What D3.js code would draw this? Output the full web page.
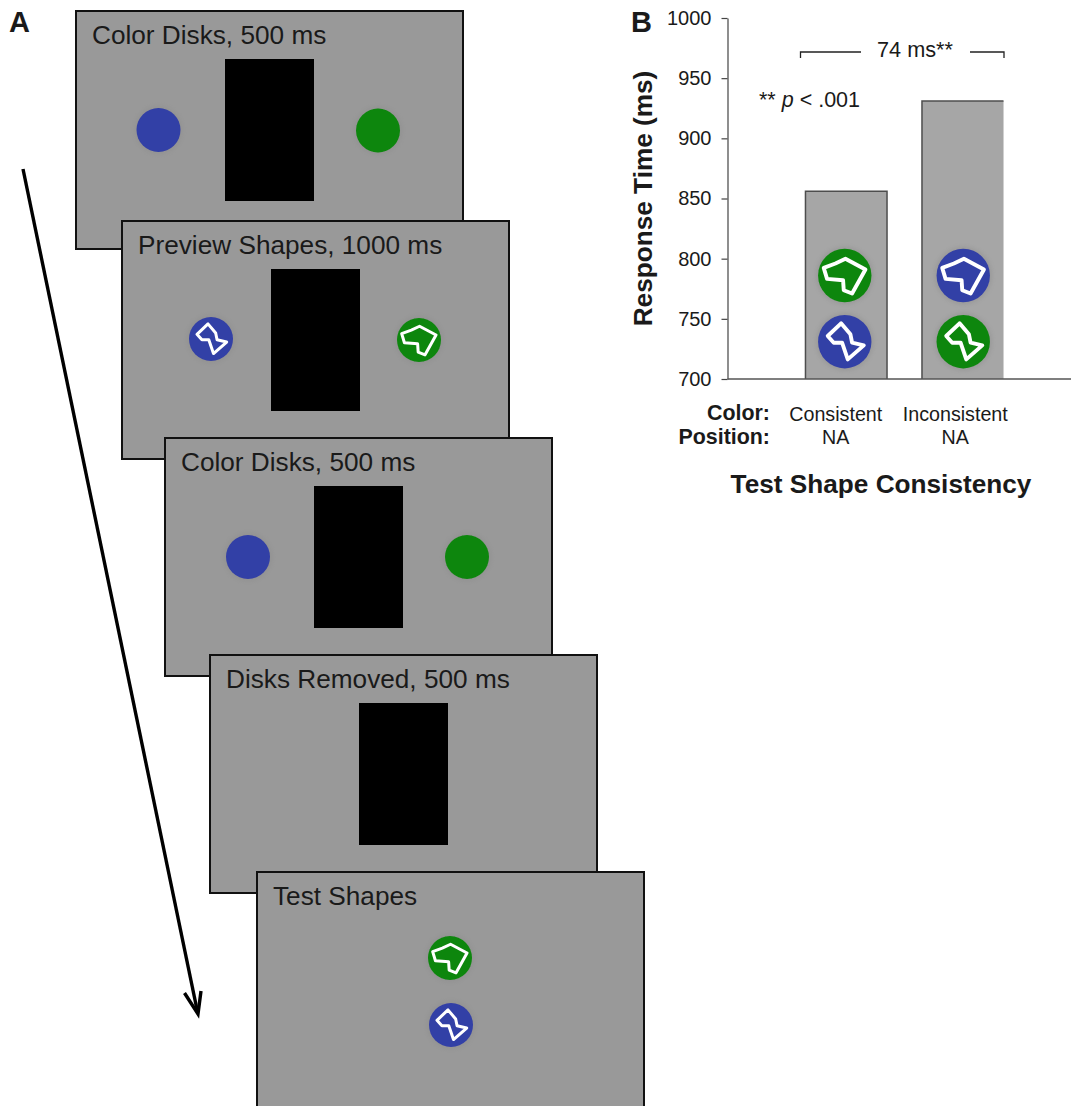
<!DOCTYPE html>
<html>
<head>
<meta charset="utf-8">
<script src="https://cdn.jsdelivr.net/npm/d3@7"></script>
<style>
  html, body { margin: 0; padding: 0; background: #fff; }
  svg { display: block; }
  text { font-family: "Liberation Sans", Arial, sans-serif; fill: #1a1a1a; }
</style>
</head>
<body>
<div id="chart"></div>
<script>
// chart values
var categories = ["Consistent", "Inconsistent"];
var responseTimes = [856, 931];
var positionLabels = ["NA", "NA"];
var yTicks = [700, 750, 800, 850, 900, 950, 1000];

// screen captions in panel A, in time order
var screenCaptions = ["Color Disks, 500 ms", "Preview Shapes, 1000 ms", "Color Disks, 500 ms", "Disks Removed, 500 ms", "Test Shapes"];

// outlines of the two test shapes, in units where a disk has radius 80
var shapeA = [[-63,-23],[-53,10],[-5,14],[-3,44],[22,54],[62,-18],[2,-50],[-28,-36]];
var shapeB = [[-51,-17],[-33,3],[-8,3],[9,53],[57,11],[22,3],[17,-22],[-11,-55]];

var width = 1071, height = 1106;
var blue = "#333fa6", green = "#0f860f", screenGrey = "#999999", barGrey = "#a6a6a6";

var svg = d3.select("#chart").append("svg")
  .attr("width", width)
  .attr("height", height);

// the disks in the picture have soft edges and a faint halo
var defs = svg.append("defs");
defs.append("filter").attr("id", "soft")
  .append("feGaussianBlur").attr("stdDeviation", 0.5);
defs.append("filter").attr("id", "halo")
  .append("feGaussianBlur").attr("stdDeviation", 2);

// disk with an optional white outline on it
function drawDisk(parent, cx, cy, r, fill, shape) {
  parent.append("circle")
    .attr("cx", cx)
    .attr("cy", cy)
    .attr("r", r + 2)
    .attr("fill", "#8a8a8a")
    .attr("opacity", 0.45)
    .attr("filter", "url(#halo)");
  var g = parent.append("g").attr("filter", "url(#soft)");
  g.append("circle")
    .attr("cx", cx)
    .attr("cy", cy)
    .attr("r", r)
    .attr("fill", fill);
  if (shape) {
    var sx = d3.scaleLinear().domain([-80, 80]).range([cx - r, cx + r]);
    var sy = d3.scaleLinear().domain([-80, 80]).range([cy - r, cy + r]);
    var line = d3.line().x(function(d) { return sx(d[0]); }).y(function(d) { return sy(d[1]); }).curve(d3.curveLinearClosed);
    g.append("path")
      .attr("d", line(shape))
      .attr("fill", "none")
      .attr("stroke", "#fff")
      .attr("stroke-width", r > 24 ? 3.9 : 3)
      .attr("stroke-linejoin", "round");
  }
}

//---- panel A
var screens = [
  { x: 76,  y: 11,  disks: [[82.5, 119, blue, null], [302, 119.5, green, null]], black: true },
  { x: 122, y: 221, disks: [[89, 118, blue, shapeB], [297, 119, green, shapeA]], black: true },
  { x: 165, y: 438, disks: [[83, 119, blue, null], [302, 119, green, null]], black: true },
  { x: 210, y: 655, disks: [], black: true },
  { x: 257, y: 872, disks: [[193, 86, green, shapeA], [194, 153, blue, shapeB]], black: false }
];

screens.forEach(function(s, i) {
  var g = svg.append("g").attr("transform", "translate(" + s.x + "," + s.y + ")");
  g.append("rect")
    .attr("width", 387)
    .attr("height", 238)
    .attr("fill", screenGrey)
    .attr("stroke", "#111")
    .attr("stroke-width", 2);
  g.append("text")
    .attr("x", 16)
    .attr("y", 33)
    .style("font-size", "26.2px")
    .text(screenCaptions[i]);
  if (s.black) {
    g.append("rect")
      .attr("x", 149)
      .attr("y", 48)
      .attr("width", 89)
      .attr("height", 142)
      .attr("fill", "#000");
  }
  s.disks.forEach(function(d) {
    drawDisk(g, d[0], d[1], 22, d[2], d[3]);
  });
});

// time arrow
svg.append("path")
  .attr("d", "M23,169L197.5,1012")
  .attr("fill", "none")
  .attr("stroke", "#000")
  .attr("stroke-width", 3.4);
svg.append("path")
  .attr("d", "M184.5,993L198,1014L201,991")
  .attr("fill", "none")
  .attr("stroke", "#000")
  .attr("stroke-width", 3.4);

svg.append("text")
  .attr("x", 9)
  .attr("y", 32)
  .style("font-size", "29px")
  .style("font-weight", "bold")
  .text("A");

//---- panel B
var axisX = 727.5, axisEnd = 1071;

var y = d3.scaleLinear().domain([700, 1000]).range([379, 18]);

var x = d3.scaleBand()
  .domain(categories)
  .range([788, 1021])
  .paddingInner(0.3)
  .paddingOuter(0.15);

svg.append("text")
  .attr("x", 631)
  .attr("y", 32)
  .style("font-size", "29px")
  .style("font-weight", "bold")
  .text("B");

var bars = svg.append("g");

bars.selectAll("rect")
  .data(categories)
  .enter().append("rect")
  .attr("x", function(d) { return x(d); })
  .attr("y", function(d, i) { return y(responseTimes[i]); })
  .attr("width", x.bandwidth())
  .attr("height", function(d, i) { return y(700) - y(responseTimes[i]); })
  .attr("fill", barGrey);

// bar edges, the second bar has no right edge
bars.selectAll("path")
  .data(categories)
  .enter().append("path")
  .attr("d", function(d, i) {
    var left = x(d), right = left + x.bandwidth();
    var p = "M" + left + "," + y(700) + "V" + y(responseTimes[i]) + "H" + right;
    if (i === 0) p += "V" + y(700);
    return p;
  })
  .attr("fill", "none")
  .attr("stroke", "#4d4d4d")
  .attr("stroke-width", 1.5);

// test shapes on the bars, upper one at 786 and lower one at 731 on the axis
var diskColors = [[green, blue], [blue, green]];
categories.forEach(function(c, i) {
  var cx = x(c) + x.bandwidth() / 2 - 1.5 + i * 2;
  drawDisk(svg, cx, y(786), 26.7, diskColors[i][0], shapeA);
  drawDisk(svg, cx, y(731), 26.7, diskColors[i][1], shapeB);
});

var axis = svg.append("g")
  .attr("transform", "translate(" + axisX + ",0)")
  .call(d3.axisLeft(y).tickValues(yTicks).tickFormat(d3.format("d")).tickSize(6).tickPadding(10).tickSizeOuter(0));
axis.selectAll("path, line").attr("stroke", "#444").attr("stroke-width", 1.2);
axis.selectAll("text").style("font-size", "20px").attr("fill", "#1a1a1a");

svg.append("line")
  .attr("x1", axisX)
  .attr("x2", axisEnd)
  .attr("y1", y(700))
  .attr("y2", y(700))
  .attr("stroke", "#555")
  .attr("stroke-width", 1.5);

svg.append("text")
  .attr("transform", "translate(652,198.5) rotate(-90)")
  .attr("text-anchor", "middle")
  .style("font-size", "26.2px")
  .style("font-weight", "bold")
  .text("Response Time (ms)");

// difference bracket
svg.append("path")
  .attr("d", "M800.5,58V52H861M970,52H1004V58")
  .attr("fill", "none")
  .attr("stroke", "#222")
  .attr("stroke-width", 1.3);
svg.append("text")
  .attr("x", 915)
  .attr("y", 57)
  .attr("text-anchor", "middle")
  .style("font-size", "21.7px")
  .text("74 ms**");

var pText = svg.append("text")
  .attr("x", 759)
  .attr("y", 107)
  .style("font-size", "21.5px");
pText.append("tspan").text("** ");
pText.append("tspan").style("font-style", "italic").text("p");
pText.append("tspan").text(" < .001");

// row labels under the axis
svg.append("text")
  .attr("x", 770).attr("y", 420)
  .attr("text-anchor", "end")
  .style("font-size", "21.4px").style("font-weight", "bold")
  .text("Color:");
svg.append("text")
  .attr("x", 770).attr("y", 444)
  .attr("text-anchor", "end")
  .style("font-size", "21.4px").style("font-weight", "bold")
  .text("Position:");

categories.forEach(function(c, i) {
  var cx = x(c) + x.bandwidth() / 2 - 10.5 + i * 3;
  svg.append("text")
    .attr("x", cx).attr("y", 420.5)
    .attr("text-anchor", "middle")
    .style("font-size", "19.7px")
    .text(c);
  svg.append("text")
    .attr("x", cx).attr("y", 443.5)
    .attr("text-anchor", "middle")
    .style("font-size", "19.7px")
    .text(positionLabels[i]);
});

svg.append("text")
  .attr("x", 881)
  .attr("y", 492.5)
  .attr("text-anchor", "middle")
  .style("font-size", "26.2px")
  .style("font-weight", "bold")
  .text("Test Shape Consistency");
</script>
</body>
</html>
